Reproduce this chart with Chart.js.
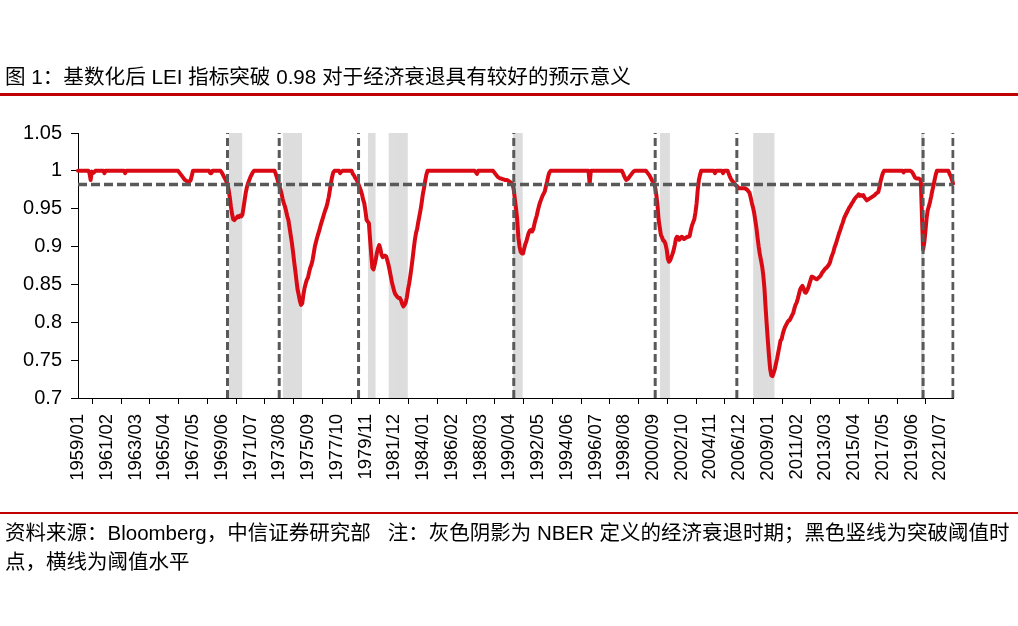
<!DOCTYPE html>
<html>
<head>
<meta charset="utf-8">
<script src="https://cdn.jsdelivr.net/npm/chart.js@4.4.1/dist/chart.umd.min.js"></script>
<style>
  html, body { margin: 0; padding: 0; background: #fff; }
  body { width: 1018px; height: 626px; position: relative; overflow: hidden;
         font-family: "Liberation Sans", Arial, "Noto Sans CJK SC", sans-serif; color: #000; }
  #wrap { position: absolute; left: 0; top: 0; width: 1018px; height: 626px; }
  .title { position: absolute; left: 5px; top: 64px; font-size: 20.6px; line-height: 26px; white-space: nowrap; }
  .rule { position: absolute; left: 0; width: 1018px; background: #C00000; }
  .note { position: absolute; left: 5px; top: 519px; font-size: 20.5px; line-height: 28.5px; white-space: nowrap; }
</style>
</head>
<body>
<div id="wrap"><canvas id="c" width="1018" height="626"></canvas></div>
<div class="title">图 1：基数化后 LEI 指标突破 0.98 对于经济衰退具有较好的预示意义</div>
<div class="rule" style="top:93px;height:3px;"></div>
<div class="rule" style="top:512px;height:2px;"></div>
<div class="note">资料来源：Bloomberg，中信证券研究部&nbsp;&nbsp;&nbsp;注：灰色阴影为 NBER 定义的经济衰退时期；黑色竖线为突破阈值时<br>点，横线为阈值水平</div>
<script>
// ---- data (monthly, 1959/01 .. 2022/06), one row per year ----
const startYear = 1959;
const lei = [
  1,1,1,1,1,1,1,1,1,1,0.997,0.988,                                   // 1959
  0.999,0.997,0.998,1,1,1,1,1,1,1,1,0.997,                           // 1960
  1,1,1,1,1,1,1,1,1,1,1,1,                                           // 1961
  1,1,1,1,1,0.997,1,1,1,1,1,1,                                       // 1962
  1,1,1,1,1,1,1,1,1,1,1,1,                                           // 1963
  1,1,1,1,1,1,1,1,1,1,1,1,                                           // 1964
  1,1,1,1,1,1,1,1,1,1,1,1,                                           // 1965
  1,1,1,1,0.998,0.996,0.994,0.992,0.99,0.988,0.987,0.986,            // 1966
  0.986,0.986,0.988,0.994,1,1,1,1,1,1,1,1,                           // 1967
  1,1,1,1,1,1,1,0.997,0.997,1,1,1,                                   // 1968
  1,1,1,1,1,0.998,0.995,0.992,0.989,0.986,0.982,0.975,               // 1969
  0.965,0.953,0.943,0.936,0.935,0.937,0.938,0.94,0.939,0.941,0.94,0.942, // 1970
  0.952,0.962,0.972,0.979,0.984,0.988,0.992,0.995,0.998,1,1,1,       // 1971
  1,1,1,1,1,1,1,1,1,1,1,1,                                           // 1972
  1,1,1,1,0.996,0.991,0.986,0.981,0.976,0.97,0.963,0.957,            // 1973
  0.953,0.947,0.94,0.935,0.925,0.915,0.905,0.893,0.88,0.868,0.855,0.843, // 1974
  0.836,0.828,0.823,0.825,0.836,0.845,0.851,0.856,0.859,0.866,0.872,0.876, // 1975
  0.882,0.891,0.9,0.906,0.912,0.917,0.922,0.928,0.933,0.938,0.943,0.948, // 1976
  0.952,0.958,0.965,0.974,0.984,0.992,0.998,1,1,1,1,1,               // 1977
  0.997,0.999,1,1,1,1,1,1,1,1,1,0.996,                               // 1978
  0.994,0.991,0.989,0.986,0.982,0.978,0.974,0.969,0.962,0.957,0.947,0.935, // 1979
  0.933,0.931,0.91,0.89,0.872,0.87,0.876,0.883,0.892,0.898,0.902,0.897, // 1980
  0.889,0.886,0.887,0.888,0.887,0.882,0.876,0.869,0.861,0.853,0.847,0.841, // 1981
  0.837,0.835,0.833,0.832,0.832,0.829,0.824,0.821,0.823,0.826,0.833,0.843, // 1982
  0.851,0.861,0.872,0.884,0.897,0.909,0.918,0.924,0.933,0.941,0.949,0.959, // 1983
  0.97,0.978,0.987,0.995,1,1,1,1,1,1,1,1,                            // 1984
  1,1,1,1,1,1,1,1,1,1,1,1,                                           // 1985
  1,1,1,1,1,1,1,1,1,1,1,1,                                           // 1986
  1,1,1,1,1,1,1,1,1,1,0.998,0.996,                                   // 1987
  1,1,1,1,1,1,1,1,1,1,1,1,                                           // 1988
  1,1,0.998,0.996,0.994,0.992,0.991,0.99,0.99,0.989,0.989,0.988,     // 1989
  0.988,0.988,0.987,0.986,0.985,0.984,0.982,0.975,0.962,0.95,0.935,0.912, // 1990
  0.9,0.893,0.891,0.891,0.897,0.903,0.907,0.913,0.918,0.921,0.922,0.92,   // 1991
  0.923,0.93,0.936,0.941,0.948,0.954,0.959,0.963,0.967,0.97,0.973,0.98,   // 1992
  0.986,0.993,0.998,1,1,1,1,1,1,1,1,1,                               // 1993
  1,1,1,1,1,1,1,1,1,1,1,1,                                           // 1994
  1,1,1,1,1,1,1,1,1,1,1,1,                                           // 1995
  1,0.983,1,1,1,1,1,1,1,1,1,1,                                       // 1996
  1,1,1,1,1,1,1,1,1,1,1,1,                                           // 1997
  1,1,1,1,1,1,0.997,0.993,0.99,0.988,0.989,0.991,                    // 1998
  0.993,0.995,0.997,0.999,1,1,1,1,1,1,1,1,                           // 1999
  1,1,1,0.998,0.996,0.994,0.991,0.988,0.986,0.983,0.978,0.968,       // 2000
  0.955,0.935,0.925,0.915,0.912,0.908,0.907,0.903,0.896,0.884,0.88,0.882, // 2001
  0.886,0.89,0.895,0.902,0.91,0.913,0.912,0.909,0.911,0.913,0.912,0.91,   // 2002
  0.911,0.912,0.913,0.913,0.914,0.922,0.928,0.932,0.936,0.945,0.957,0.975, // 2003
  0.988,0.995,1,1,1,1,1,1,1,1,1,1,                                   // 2004
  1,1,0.997,1,1,1,1,1,1,0.997,1,1,                                   // 2005
  1,1,0.996,0.992,0.989,0.987,0.985,0.983,0.981,0.98,0.978,0.977,    // 2006
  0.977,0.977,0.977,0.977,0.977,0.976,0.975,0.973,0.971,0.965,0.958,0.952, // 2007
  0.945,0.935,0.925,0.912,0.9,0.89,0.882,0.874,0.862,0.845,0.82,0.797,    // 2008
  0.775,0.755,0.738,0.73,0.729,0.733,0.738,0.745,0.752,0.76,0.768,0.776,  // 2009
  0.778,0.785,0.79,0.794,0.797,0.8,0.802,0.803,0.806,0.809,0.812,0.818,   // 2010
  0.823,0.826,0.831,0.837,0.843,0.846,0.848,0.845,0.84,0.839,0.842,0.845, // 2011
  0.85,0.855,0.86,0.86,0.859,0.858,0.857,0.857,0.859,0.86,0.862,0.865,    // 2012
  0.867,0.869,0.871,0.872,0.874,0.876,0.879,0.885,0.889,0.893,0.899,0.903, // 2013
  0.908,0.913,0.918,0.922,0.927,0.931,0.936,0.94,0.943,0.946,0.949,0.952,  // 2014
  0.954,0.957,0.959,0.962,0.964,0.966,0.967,0.969,0.967,0.968,0.967,0.968, // 2015
  0.965,0.963,0.961,0.962,0.963,0.964,0.965,0.966,0.967,0.968,0.97,0.971,  // 2016
  0.972,0.978,0.986,0.992,0.997,1,1,1,1,1,1,1,                       // 2017
  1,1,1,1,1,1,1,1,1,1,0.998,1,                                       // 2018
  1,1,1,1,1,0.999,0.997,0.994,0.991,0.99,0.99,0.99,                  // 2019
  0.989,0.988,0.94,0.896,0.905,0.92,0.937,0.948,0.953,0.959,0.966,0.974, // 2020
  0.98,0.988,0.995,1,1,1,1,1,1,1,1,1,                                // 2021
  1,1,0.996,0.993,0.989,0.983                                        // 2022
];

// categories: one label per month
const months = [];
for (let i = 0; i < lei.length; i++) {
  const y = startYear + Math.floor(i / 12), m = (i % 12) + 1;
  months.push(y + '/' + (m < 10 ? '0' + m : m));
}

// tick labels shown on the x axis
const tickLabels = ['1959/01','1961/02','1963/03','1965/04','1967/05','1969/06','1971/07',
  '1973/08','1975/09','1977/10','1979/11','1981/12','1984/01','1986/02','1988/03','1990/04',
  '1992/05','1994/06','1996/07','1998/08','2000/09','2002/10','2004/11','2006/12','2009/01',
  '2011/02','2013/03','2015/04','2017/05','2019/06','2021/07'];

// NBER recession months (shaded)
const recessions = [['1970/01','1970/11'],['1973/12','1975/03'],['1980/02','1980/07'],
  ['1981/08','1982/11'],['1990/08','1991/03'],['2001/04','2001/11'],['2008/01','2009/06'],
  ['2020/03','2020/04']];

// months where the index broke through the threshold (vertical dashed lines)
const signals = ['1969/11','1973/08','1979/05','1990/08','2000/11','2006/10','2020/04','2022/06'];

const threshold = 0.982;
const yTicks = [0.7, 0.75, 0.8, 0.85, 0.9, 0.95, 1, 1.05];

// ---- derived datasets ----
const shade = months.map(lab => recessions.some(r => lab >= r[0] && lab <= r[1]) ? yTicks[yTicks.length - 1] : null);
const vlines = [];
signals.forEach(lab => {
  vlines.push({x: lab, y: yTicks[0]});
  vlines.push({x: lab, y: yTicks[yTicks.length - 1]});
  vlines.push({x: lab, y: null});
});
const hline = [{x: months[0], y: threshold}, {x: months[months.length - 1], y: threshold}];

Chart.defaults.font.family = "'Liberation Sans', Arial, sans-serif";
Chart.defaults.font.size = 18;
Chart.defaults.color = '#000';

const showSet = new Set(tickLabels);

new Chart(document.getElementById('c'), {
  type: 'line',
  data: {
    labels: months,
    datasets: [
      { type: 'line', data: vlines, borderColor: '#595959', borderWidth: 3, borderDash: [8, 4],
        pointRadius: 0, spanGaps: false, order: 0 },
      { type: 'line', data: hline, borderColor: '#595959', borderWidth: 3.5, borderDash: [9, 4],
        pointRadius: 0, order: 1 },
      { type: 'line', data: lei, borderColor: '#DA0A14', borderWidth: 4, pointRadius: 0,
        tension: 0, borderJoinStyle: 'round', borderCapStyle: 'round', order: 2 },
      { type: 'bar', data: shade, backgroundColor: '#DDDDDD', borderWidth: 0,
        barPercentage: 1, categoryPercentage: 1, order: 3 }
    ]
  },
  options: {
    responsive: false,
    animation: false,
    devicePixelRatio: 1,
    layout: { padding: { left: 0, top: 133, right: 65, bottom: 128 } },
    plugins: { legend: { display: false }, tooltip: { enabled: false } },
    scales: {
      x: {
        type: 'category',
        offset: false,
        afterFit: s => { s.height = 100; },
        grid: { display: true, drawOnChartArea: false, drawTicks: true, tickLength: 6, color: '#000', lineWidth: 1 },
        border: { display: true, color: '#000', width: 1 },
        ticks: {
          autoSkip: false, maxRotation: 90, minRotation: 90, padding: 10,
          font: { size: 18.5 }, color: '#000',
          callback: function (v, i) { const l = months[i]; return showSet.has(l) ? l : null; }
        }
      },
      y: {
        min: yTicks[0], max: yTicks[yTicks.length - 1],
        afterFit: s => { s.width = 78; },
        afterBuildTicks: s => { s.ticks = yTicks.map(v => ({ value: v })); },
        grid: { display: true, drawOnChartArea: false, drawTicks: true, tickLength: 7, color: '#000', lineWidth: 1 },
        border: { display: true, color: '#000', width: 1 },
        ticks: { padding: 9, font: { size: 20 }, color: '#000',
          callback: v => String(Number(v.toFixed(2))) }
      }
    }
  }
});
</script>
</body>
</html>
